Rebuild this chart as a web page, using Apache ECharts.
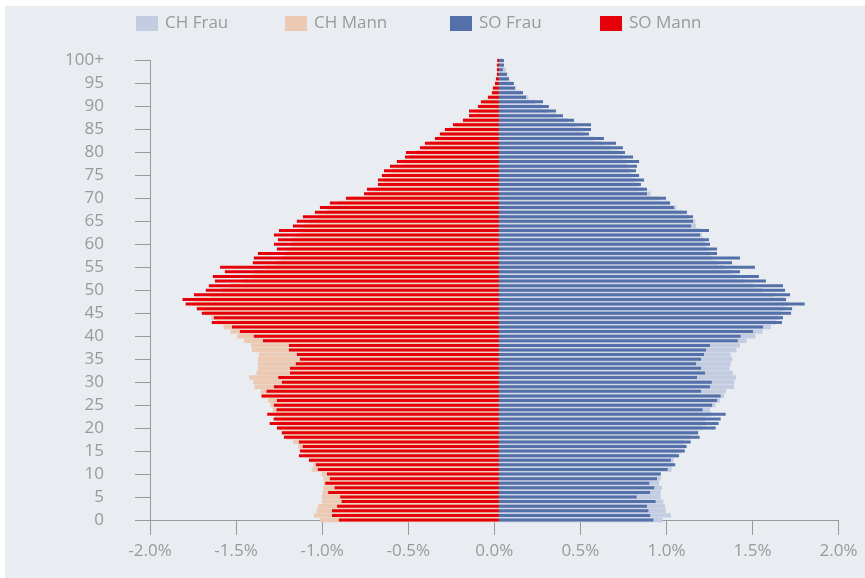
<!DOCTYPE html>
<html>
<head>
<meta charset="utf-8">
<script src="https://cdn.jsdelivr.net/npm/echarts@6/dist/echarts.min.js"></script>
<style>
  body { margin: 0; background: #fff; }
  #echart { position: absolute; left: 5px; top: 6px; width: 860px; height: 572px; }
</style>
</head>
<body>
<div id="echart"></div>
<script>
// ages 0..100+, bottom to top
var ages = [];
for (var i = 0; i < 100; i++) ages.push(String(i));
ages.push('100+');

// percent of population per age (Solothurn)
var soMann = [0.93, 0.97, 0.97, 0.94, 0.914, 0.922, 0.992, 0.955, 1.009, 0.982,
  0.999, 1.052, 1.063, 1.104, 1.162, 1.156, 1.14, 1.162, 1.249, 1.261,
  1.29, 1.332, 1.309, 1.346, 1.292, 1.307, 1.29, 1.379, 1.35, 1.307,
  1.261, 1.282, 1.214, 1.214, 1.18, 1.156, 1.174, 1.22, 1.22, 1.371,
  1.424, 1.505, 1.551, 1.668, 1.656, 1.726, 1.755, 1.82, 1.838, 1.772,
  1.703, 1.685, 1.65, 1.662, 1.592, 1.62, 1.43, 1.424, 1.40, 1.29,
  1.307, 1.284, 1.307, 1.278, 1.197, 1.174, 1.139, 1.069, 1.04, 0.982,
  0.889, 0.784, 0.767, 0.703, 0.703, 0.68, 0.668, 0.633, 0.593, 0.546,
  0.54, 0.459, 0.43, 0.372, 0.343, 0.314, 0.267, 0.209, 0.174, 0.174,
  0.122, 0.105, 0.064, 0.04, 0.035, 0.023, 0.017, 0.012, 0.012, 0.012, 0.01];

var soFrau = [0.897, 0.878, 0.868, 0.86, 0.91, 0.80, 0.878, 0.902, 0.873, 0.918,
  0.94, 0.98, 1.024, 0.999, 1.046, 1.08, 1.09, 1.114, 1.166, 1.156,
  1.259, 1.276, 1.288, 1.317, 1.183, 1.238, 1.267, 1.288, 1.174, 1.226,
  1.236, 1.15, 1.197, 1.174, 1.145, 1.174, 1.191, 1.203, 1.226, 1.387,
  1.404, 1.476, 1.534, 1.644, 1.65, 1.697, 1.703, 1.776, 1.668, 1.691,
  1.662, 1.65, 1.551, 1.51, 1.40, 1.487, 1.354, 1.40, 1.267, 1.267,
  1.226, 1.22, 1.168, 1.22, 1.116, 1.127, 1.127, 1.092, 1.017, 0.994,
  0.97, 0.86, 0.86, 0.825, 0.843, 0.814, 0.796, 0.802, 0.814, 0.779,
  0.732, 0.72, 0.68, 0.61, 0.523, 0.535, 0.535, 0.436, 0.372, 0.331,
  0.29, 0.256, 0.157, 0.14, 0.093, 0.087, 0.058, 0.046, 0.023, 0.029, 0.029];

// Switzerland
var chMann = [1.04, 1.075, 1.059, 1.05, 1.026, 1.03, 1.024, 1.02, 1.017, 1.02,
  1.03, 1.088, 1.079, 1.098, 1.127, 1.147, 1.166, 1.195, 1.234, 1.263,
  1.282, 1.29, 1.30, 1.30, 1.315, 1.327, 1.34, 1.379, 1.385, 1.42,
  1.427, 1.45, 1.408, 1.40, 1.40, 1.40, 1.395, 1.435, 1.44, 1.48,
  1.52, 1.56, 1.60, 1.64, 1.67, 1.71, 1.75, 1.78, 1.76, 1.68,
  1.61, 1.56, 1.49, 1.44, 1.42, 1.35, 1.29, 1.26, 1.24, 1.22,
  1.21, 1.20, 1.18, 1.16, 1.13, 1.10, 1.05, 1.01, 0.99, 0.93,
  0.87, 0.76, 0.72, 0.69, 0.67, 0.65, 0.62, 0.59, 0.56, 0.52,
  0.49, 0.44, 0.40, 0.36, 0.33, 0.29, 0.25, 0.21, 0.17, 0.14,
  0.11, 0.09, 0.06, 0.045, 0.035, 0.025, 0.02, 0.012, 0.01, 0.007, 0.008];

var chFrau = [0.951, 0.999, 0.97, 0.965, 0.955, 0.94, 0.94, 0.947, 0.93, 0.94,
  0.94, 1.003, 1.009, 1.015, 1.038, 1.061, 1.08, 1.075, 1.11, 1.159,
  1.183, 1.203, 1.203, 1.234, 1.226, 1.257, 1.284, 1.307, 1.319, 1.366,
  1.366, 1.377, 1.358, 1.34, 1.346, 1.355, 1.346, 1.38, 1.40, 1.44,
  1.49, 1.53, 1.58, 1.61, 1.63, 1.64, 1.66, 1.68, 1.66, 1.60,
  1.53, 1.48, 1.43, 1.38, 1.35, 1.31, 1.27, 1.24, 1.23, 1.21,
  1.20, 1.19, 1.18, 1.17, 1.145, 1.14, 1.10, 1.07, 1.03, 0.99,
  0.93, 0.88, 0.84, 0.81, 0.79, 0.77, 0.76, 0.75, 0.74, 0.72,
  0.69, 0.65, 0.60, 0.55, 0.50, 0.48, 0.45, 0.40, 0.33, 0.29,
  0.25, 0.21, 0.17, 0.13, 0.10, 0.08, 0.06, 0.05, 0.04, 0.03, 0.02];

var xTicks = [-2, -1.5, -1, -0.5, 0, 0.5, 1, 1.5, 2];

try {
    var chart_el = document.getElementById('echart');
    var chart = echarts.init(chart_el);
    var font = "'Open Sans', sans-serif";
    var grey = '#999';
    // bars sit a few px right of the 0.0% tick in the original
    var shift = 0.027;
    var neg = function (arr) { return arr.map(function (v) { return -v; }); };
    var legendAt = function (name, left) {
        return {
            data: [name], left: left, top: 4, icon: 'rect',
            itemWidth: 22, itemHeight: 15,
            textStyle: { color: grey, fontSize: 17, fontFamily: font, padding: [0, 0, 0, 2] }
        };
    };
    var option = {
        animation: false,
        backgroundColor: '#e9edf1',
        legend: [
            legendAt('CH Frau', 126),
            legendAt('CH Mann', 275),
            legendAt('SO Frau', 440),
            legendAt('SO Mann', 590)
        ],
        grid: { left: 145, right: 26.4, top: 54.5, bottom: 58 },
        xAxis: [{
            type: 'value', min: xTicks[0], max: xTicks[xTicks.length - 1], interval: 0.5,
            splitLine: { show: false },
            axisLine: { show: true, lineStyle: { color: grey } },
            axisTick: { show: true, length: 15, lineStyle: { color: grey } },
            axisLabel: {
                margin: 23, color: grey, fontSize: 17, fontFamily: font,
                formatter: function (v) { return v.toFixed(1) + '%'; }
            }
        }, {
            type: 'value', show: false, min: -2 - shift, max: 2 - shift,
            splitLine: { show: false }
        }],
        yAxis: [{
            type: 'category', data: ages, boundaryGap: false,
            axisLine: { onZero: false, lineStyle: { color: grey } },
            axisTick: { interval: 4, length: 15, lineStyle: { color: grey } },
            axisLabel: { interval: 4, margin: 46, color: grey, fontSize: 17, fontFamily: font }
        }, {
            type: 'category', data: ages, boundaryGap: false, show: false,
            axisLine: { show: false, onZero: false },
            axisTick: { show: false },
            axisLabel: { show: false },
            splitLine: { show: false }
        }],
        series: [
            { name: 'CH Frau', type: 'bar', stack: 'ch', xAxisIndex: 1, yAxisIndex: 1,
              barWidth: 4.4, itemStyle: { color: '#c3cce0' }, data: chFrau },
            { name: 'CH Mann', type: 'bar', stack: 'ch', xAxisIndex: 1, yAxisIndex: 1,
              barWidth: 4.4, itemStyle: { color: '#ebc9b3' }, data: neg(chMann) },
            { name: 'SO Frau', type: 'bar', stack: 'so', xAxisIndex: 1, yAxisIndex: 0,
              barWidth: 3, itemStyle: { color: '#5470a9' }, data: soFrau },
            { name: 'SO Mann', type: 'bar', stack: 'so', xAxisIndex: 1, yAxisIndex: 0,
              barWidth: 3, itemStyle: { color: '#e60009' }, data: neg(soMann) }
        ]
    };
    chart.setOption(option);
} catch (error) {
    console.error('Failed to draw chart');
    console.error(error);
}
</script>
</body>
</html>
